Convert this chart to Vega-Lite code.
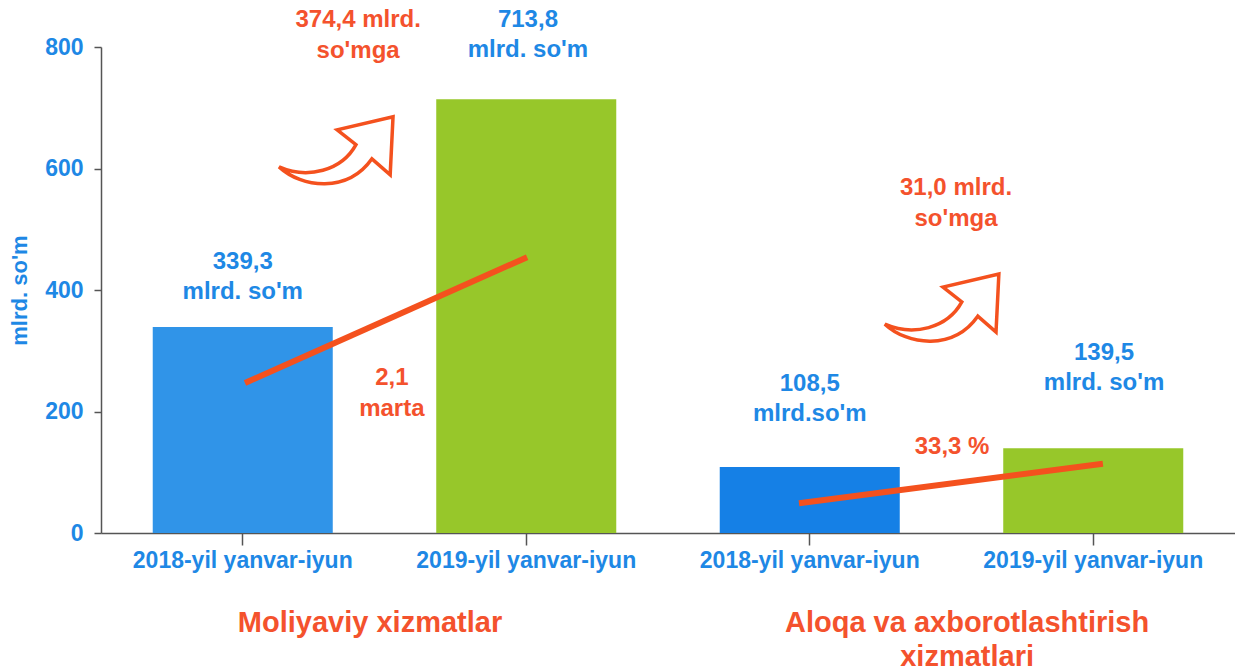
{
  "$schema": "https://vega.github.io/schema/vega-lite/v6.json",
  "width": 1134,
  "height": 486,
  "autosize": {"type": "none"},
  "padding": {"left": 101, "top": 47, "right": 0, "bottom": 138},
  "background": "white",
  "config": {
    "view": {"stroke": null},
    "font": "Liberation Sans",
    "axis": {"grid": false}
  },
  "datasets": {
    "bars": [
      {"key": "2018-yil yanvar-iyun|1", "value": 339.3},
      {"key": "2019-yil yanvar-iyun|2", "value": 713.8},
      {"key": "2018-yil yanvar-iyun|3", "value": 108.5},
      {"key": "2019-yil yanvar-iyun|4", "value": 139.5}
    ],
    "lines": [
      {"group": "a", "xp": 0.508, "value": 247},
      {"group": "a", "xp": 1.503, "value": 454},
      {"group": "b", "xp": 2.462, "value": 49},
      {"group": "b", "xp": 3.534, "value": 114}
    ],
    "blueNotes": [
      {"xp": 0.5, "value": 446, "text": "339,3\nmlrd. so'm"},
      {"xp": 1.506, "value": 844, "text": "713,8\nmlrd. so'm"},
      {"xp": 2.5, "value": 245, "text": "108,5\nmlrd.so'm"},
      {"xp": 3.538, "value": 296, "text": "139,5\nmlrd. so'm"}
    ],
    "redNotes": [
      {"xp": 0.907, "value": 844, "text": "374,4 mlrd.\nso'mga"},
      {"xp": 1.026, "value": 255, "text": "2,1\nmarta"},
      {"xp": 3.016, "value": 568, "text": "31,0 mlrd.\nso'mga"},
      {"xp": 3.002, "value": 142, "text": "33,3 %"}
    ],
    "arrows": [
      {"xp": 0.829, "value": 629},
      {"xp": 2.966, "value": 370}
    ],
    "groups": [
      {"xp": 0.949, "value": -148, "text": "Moliyaviy xizmatlar"},
      {"xp": 3.055, "value": -148, "text": "Aloqa va axborotlashtirish\nxizmatlari"}
    ]
  },
  "layer": [
    {
      "data": {"name": "bars"},
      "mark": {"type": "bar"},
      "encoding": {
        "x": {
          "field": "key", "type": "nominal", "sort": null,
          "scale": {"paddingInner": 0.365, "paddingOuter": 0.1825},
          "axis": {
            "title": null,
            "labelAngle": 0,
            "labelLimit": 0,
            "labelExpr": "split(datum.label, '|')[0]",
            "labelColor": "#1E88E5",
            "labelFontSize": 23,
            "labelFontWeight": "bold",
            "labelPadding": 4,
            "tickSize": 12,
            "tickColor": "#555555",
            "tickWidth": 1.5,
            "domainColor": "#555555",
            "domainWidth": 1.5
          }
        },
        "y": {
          "field": "value", "type": "quantitative",
          "scale": {"domain": [0, 800]},
          "axis": {
            "title": "mlrd. so'm",
            "values": [0, 200, 400, 600, 800],
            "titleColor": "#1E88E5",
            "titleFontSize": 22,
            "titleFontWeight": "bold",
            "titlePadding": 13,
            "labelColor": "#1E88E5",
            "labelFontSize": 23,
            "labelFontWeight": "bold",
            "labelPadding": 11,
            "tickSize": 7,
            "tickColor": "#555555",
            "tickWidth": 1.5,
            "domainColor": "#555555",
            "domainWidth": 1.5
          }
        },
        "color": {
          "field": "key", "type": "nominal", "sort": null,
          "scale": {"range": ["#3094E8", "#97C72A", "#1580E6", "#97C72A"]},
          "legend": null
        }
      }
    },
    {
      "data": {"name": "lines"},
      "mark": {"type": "line", "strokeWidth": 6, "color": "#F4511E", "strokeCap": "butt"},
      "encoding": {
        "x": {"field": "xp", "type": "quantitative", "scale": {"domain": [0, 4], "nice": false, "zero": false}, "axis": null},
        "y": {"field": "value", "type": "quantitative", "scale": {"domain": [0, 800]}},
        "detail": {"field": "group"}
      }
    },
    {
      "data": {"name": "arrows"},
      "mark": {
        "type": "point",
        "shape": "M-1,0.28 C-0.6,0.65 0.2,0.75 0.63,0.14 L0.95,0.42 L1,-0.6 L0.02,-0.37 L0.35,-0.11 C0.1,0.35 -0.5,0.5 -1,0.28 Z",
        "filled": false,
        "stroke": "#F4511E",
        "strokeWidth": 3.5,
        "opacity": 1,
        "size": 13000
      },
      "encoding": {
        "x": {"field": "xp", "type": "quantitative", "scale": {"domain": [0, 4], "nice": false, "zero": false}, "axis": null},
        "y": {"field": "value", "type": "quantitative", "scale": {"domain": [0, 800]}}
      }
    },
    {
      "data": {"name": "blueNotes"},
      "mark": {"type": "text", "align": "center", "baseline": "middle", "lineBreak": "\n", "lineHeight": 30, "fontSize": 24, "fontWeight": "bold", "color": "#1E88E5"},
      "encoding": {
        "x": {"field": "xp", "type": "quantitative", "scale": {"domain": [0, 4], "nice": false, "zero": false}, "axis": null},
        "y": {"field": "value", "type": "quantitative", "scale": {"domain": [0, 800]}},
        "text": {"field": "text"}
      }
    },
    {
      "data": {"name": "redNotes"},
      "mark": {"type": "text", "align": "center", "baseline": "middle", "lineBreak": "\n", "lineHeight": 31, "fontSize": 24, "fontWeight": "bold", "color": "#F4522D"},
      "encoding": {
        "x": {"field": "xp", "type": "quantitative", "scale": {"domain": [0, 4], "nice": false, "zero": false}, "axis": null},
        "y": {"field": "value", "type": "quantitative", "scale": {"domain": [0, 800]}},
        "text": {"field": "text"}
      }
    },
    {
      "data": {"name": "groups"},
      "mark": {"type": "text", "align": "center", "baseline": "middle", "lineBreak": "\n", "lineHeight": 34, "fontSize": 29, "fontWeight": "bold", "color": "#F4522D"},
      "encoding": {
        "x": {"field": "xp", "type": "quantitative", "scale": {"domain": [0, 4], "nice": false, "zero": false}, "axis": null},
        "y": {"field": "value", "type": "quantitative", "scale": {"domain": [0, 800]}},
        "text": {"field": "text"}
      }
    }
  ],
  "resolve": {"scale": {"x": "independent"}}
}
